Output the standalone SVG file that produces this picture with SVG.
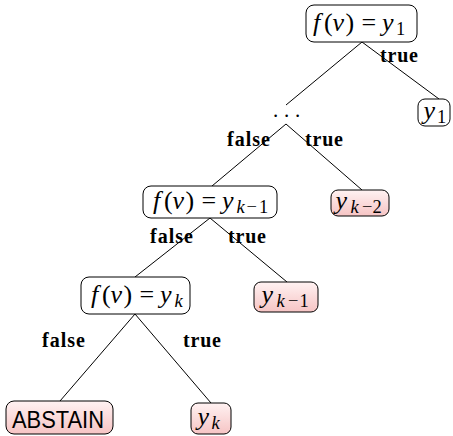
<svg xmlns="http://www.w3.org/2000/svg" width="453" height="436" viewBox="0 0 453 436">
<defs>
<linearGradient id="pink" x1="0" y1="0" x2="0" y2="1">
<stop offset="0" stop-color="#fff2f2"/>
<stop offset="1" stop-color="#f6c4c4"/>
</linearGradient>
<style>
.box{fill:#fff;stroke:#000;stroke-width:1}
.leaf{fill:url(#pink);stroke:#000;stroke-width:1}
.m{font-family:"Liberation Serif",serif;font-size:26px;fill:#000}
.i{font-style:italic}
.s{font-size:18.5px}
.lab{font-family:"Liberation Serif",serif;font-weight:bold;font-size:20px;fill:#000}
.sans{font-family:"Liberation Sans",sans-serif;font-size:23px;fill:#000}
#edges line{stroke:#000;stroke-width:1}
</style>
</defs>
<rect width="453" height="436" fill="#fff"/>
<g id="edges">
<line x1="362" y1="42" x2="286" y2="105"/>
<line x1="362" y1="42" x2="439" y2="99"/>
<line x1="286" y1="124" x2="212" y2="186"/>
<line x1="286" y1="124" x2="362" y2="190"/>
<line x1="210" y1="218" x2="135" y2="277"/>
<line x1="210" y1="218" x2="287" y2="282"/>
<line x1="135" y1="314" x2="60" y2="401"/>
<line x1="135" y1="314" x2="211" y2="403"/>
</g>
<g id="labels">
<text class="lab" x="380" y="62" textLength="38" lengthAdjust="spacing">true</text>
<text class="lab" x="227" y="146" textLength="43" lengthAdjust="spacing">false</text>
<text class="lab" x="305" y="146" textLength="38" lengthAdjust="spacing">true</text>
<text class="lab" x="150" y="243" textLength="43" lengthAdjust="spacing">false</text>
<text class="lab" x="228" y="243" textLength="38" lengthAdjust="spacing">true</text>
<text class="lab" x="42" y="347" textLength="43" lengthAdjust="spacing">false</text>
<text class="lab" x="183" y="347" textLength="38" lengthAdjust="spacing">true</text>
</g>
<g id="n1">
<rect class="box" x="306" y="5" width="111" height="37" rx="8"/>
<text class="m" y="31"><tspan class="i" x="313">f</tspan><tspan x="324">(</tspan><tspan class="i" x="332.5">v</tspan><tspan x="345.5">)</tspan><tspan x="361.5">=</tspan><tspan class="i" x="382">y</tspan><tspan class="s" x="396" y="35">1</tspan></text>
</g>
<g id="leaf1">
<rect class="box" x="418" y="99" width="32" height="27" rx="7"/>
<text class="m" y="119"><tspan class="i" x="423.5">y</tspan><tspan class="s" x="437" y="123">1</tspan></text>
</g>
<g id="dots">
<text class="m" y="117" style="font-size:21px" x="273 284 295">...</text>
</g>
<g id="n2">
<rect class="box" x="143" y="186" width="134" height="32" rx="8"/>
<text class="m" y="209"><tspan class="i" x="153">f</tspan><tspan x="164">(</tspan><tspan class="i" x="172.5">v</tspan><tspan x="185.5">)</tspan><tspan x="201.5">=</tspan><tspan class="i" x="222">y</tspan><tspan class="s i" x="236.5" y="213">k</tspan><tspan class="s" x="246.5" y="213">−</tspan><tspan class="s" x="259" y="213">1</tspan></text>
</g>
<g id="leaf2">
<rect class="leaf" x="331" y="190" width="58" height="26" rx="7"/>
<text class="m" y="209"><tspan class="i" x="335.5">y</tspan><tspan class="s i" x="350.5" y="213">k</tspan><tspan class="s" x="362" y="213">−</tspan><tspan class="s" x="372.5" y="213">2</tspan></text>
</g>
<g id="n3">
<rect class="box" x="81" y="277" width="109" height="37" rx="8"/>
<text class="m" y="303"><tspan class="i" x="91">f</tspan><tspan x="102">(</tspan><tspan class="i" x="110.5">v</tspan><tspan x="123.5">)</tspan><tspan x="139.5">=</tspan><tspan class="i" x="160">y</tspan><tspan class="s i" x="174.5" y="307">k</tspan></text>
</g>
<g id="leaf3">
<rect class="leaf" x="254" y="282" width="64" height="30" rx="7"/>
<text class="m" y="303"><tspan class="i" x="261.5">y</tspan><tspan class="s i" x="276.5" y="307">k</tspan><tspan class="s" x="288" y="307">−</tspan><tspan class="s" x="299.5" y="307">1</tspan></text>
</g>
<g id="abstain">
<rect class="leaf" x="6" y="401" width="107" height="33" rx="8"/>
<text class="sans" x="12" y="428" textLength="92" lengthAdjust="spacingAndGlyphs">ABSTAIN</text>
</g>
<g id="leaf4">
<rect class="leaf" x="191" y="403" width="40" height="31" rx="7"/>
<text class="m" y="425"><tspan class="i" x="197.5">y</tspan><tspan class="s i" x="211.5" y="429">k</tspan></text>
</g>
</svg>
